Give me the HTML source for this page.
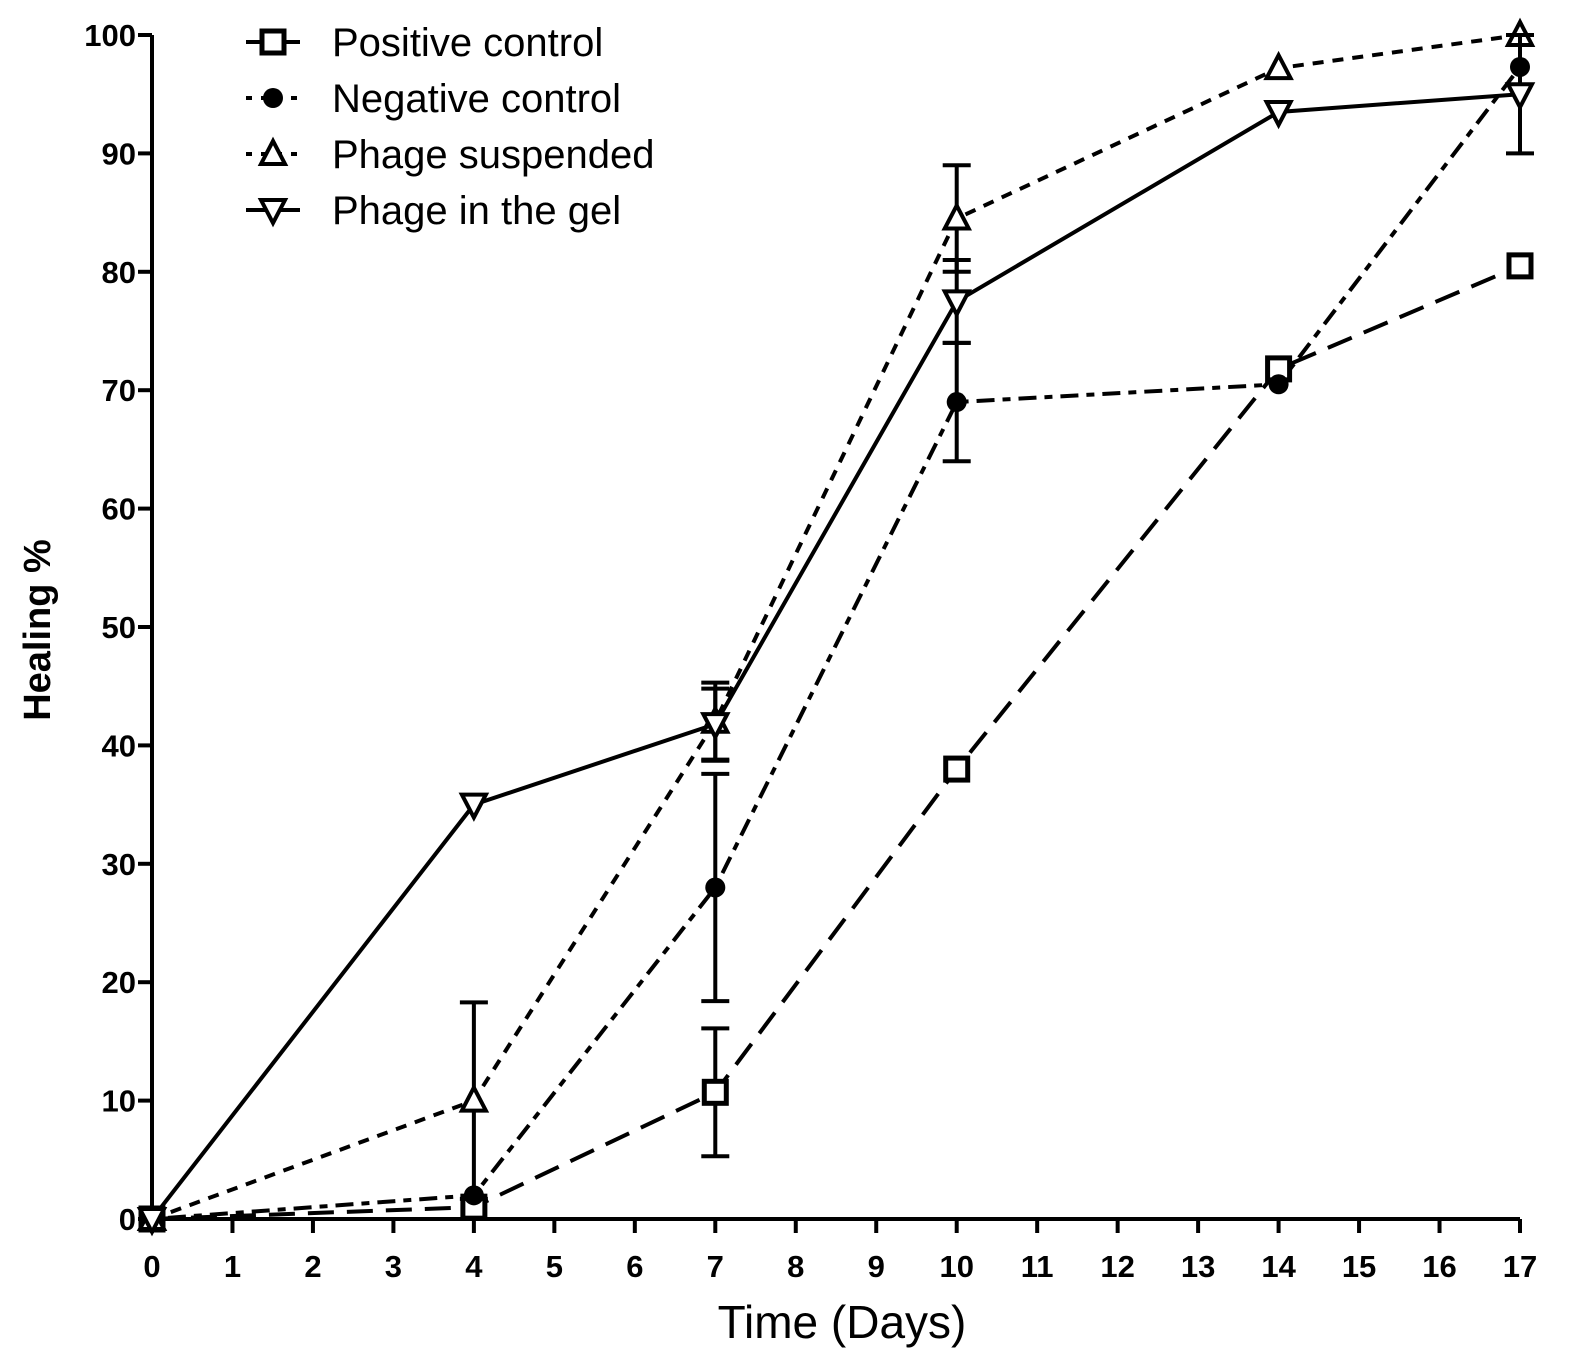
<!DOCTYPE html>
<html><head><meta charset="utf-8"><style>
body{margin:0;background:#fff}
svg{display:block;font-family:"Liberation Sans",Arial,sans-serif}
</style></head><body>
<svg id="chart" width="1571" height="1371" viewBox="0 0 1571 1371" xmlns="http://www.w3.org/2000/svg">
<g id="axes"></g>
<g id="series"></g>
<g id="legend"></g>
<text x="50" y="630" font-size="38" font-weight="bold" text-anchor="middle" transform="rotate(-90 50 630)">Healing %</text>
<text x="842" y="1338" font-size="46" text-anchor="middle">Time (Days)</text>
</svg>
<script>
const days=[0,4,7,10,14,17];
const xTicks=[0,1,2,3,4,5,6,7,8,9,10,11,12,13,14,15,16,17];
const yTicks=[0,10,20,30,40,50,60,70,80,90,100];
const seriesNames=["Positive control","Negative control","Phage suspended","Phage in the gel"];
const positiveValues=[0,1,10.7,38,71.8,80.5];
const positiveErr=[0,0,5.4,0,0,0];
const negativeValues=[0,2,28,69,70.5,97.3];
const negativeErr=[0,0,9.6,5,0,0];
const suspendedValues=[0,10,42,84.5,97.2,100];
const suspendedErr=[0,8.3,3.3,4.5,0,0];
const gelValues=[0,35,41.8,77.5,93.5,95];
const gelErr=[0,0,3,3.5,0,5];

const NS="http://www.w3.org/2000/svg";
const X0=152,X1=1520,Y0=1219,Y1=35;
const xs=d=>X0+(d/17)*(X1-X0);
const ys=v=>Y0-(v/100)*(Y0-Y1);
function mk(tag,attrs,parent){const e=document.createElementNS(NS,tag);for(const k in attrs)e.setAttribute(k,attrs[k]);parent.appendChild(e);return e;}
const axes=document.getElementById('axes');
let e=mk('line',{x1:X0,y1:Y1,x2:X0,y2:Y0,stroke:'#000','stroke-width':4},axes);


e=mk('line',{x1:X0,y1:Y0,x2:X1,y2:Y0,stroke:'#000','stroke-width':4},axes);


yTicks.forEach(v=>{
  const t=mk('line',{x1:X0-14,y1:ys(v),x2:X0,y2:ys(v),stroke:'#000','stroke-width':4},axes);
  
  
  const l=mk('text',{x:X0-16,y:ys(v)+11,'font-size':31,'font-weight':'bold','text-anchor':'end'},axes);
  l.textContent=v;
  
  
});
xTicks.forEach(d=>{
  const t=mk('line',{x1:xs(d),y1:Y0,x2:xs(d),y2:Y0+14,stroke:'#000','stroke-width':4},axes);
  
  
  const l=mk('text',{x:xs(d),y:Y0+58,'font-size':31,'font-weight':'bold','text-anchor':'middle'},axes);
  l.textContent=d;
  
  
});
const dashes=["26,13","8,8,18,8","11,9","none"];
const markers=["square","circle","triangle","invtriangle"];
const allVals=[positiveValues,negativeValues,suspendedValues,gelValues];
const allErr=[positiveErr,negativeErr,suspendedErr,gelErr];
function marker(type,cx,cy,g){
  if(type==='square')return mk('rect',{x:cx-11,y:cy-11,width:22,height:22,fill:'#fff',stroke:'#000','stroke-width':5},g);
  if(type==='circle')return mk('circle',{cx:cx,cy:cy,r:10,fill:'#000'},g);
  if(type==='triangle')return mk('polygon',{points:`${cx},${cy-13} ${cx-12},${cy+10} ${cx+12},${cy+10}`,fill:'#fff',stroke:'#000','stroke-width':4},g);
  return mk('polygon',{points:`${cx},${cy+13} ${cx-12},${cy-10} ${cx+12},${cy-10}`,fill:'#fff',stroke:'#000','stroke-width':4},g);
}
const sg=document.getElementById('series');
allVals.forEach((vals,i)=>{
  const g=mk('g',{},sg);
  
  
  const pl=mk('polyline',{points:days.map((d,j)=>xs(d)+','+ys(vals[j])).join(' '),fill:'none',stroke:'#000','stroke-width':4,'stroke-dasharray':dashes[i]},g);
  
  
  days.forEach((d,j)=>{
    const er=allErr[i][j];
    if(er>0){
      const cx=xs(d),a=ys(vals[j]-er),b=ys(vals[j]+er);
      const eb=mk('path',{d:`M${cx},${a}V${b}M${cx-14},${a}H${cx+14}M${cx-14},${b}H${cx+14}`,stroke:'#000','stroke-width':4,fill:'none'},g);
      
      
    }
    const m=marker(markers[i],xs(d),ys(vals[j]),g);
    
    
  });
});
const lg=document.getElementById('legend');
seriesNames.forEach((n,i)=>{
  const y=42+i*56;
  const g=mk('g',{},lg);
  
  
  mk('line',{x1:246,y1:y,x2:300,y2:y,stroke:'#000','stroke-width':4,'stroke-dasharray':i==0||i==3?'none':'6,9'},g);
  marker(markers[i],273,y,g);
  const t=mk('text',{x:332,y:y+14,'font-size':40},g);
  t.textContent=n;
});
</script>
</body></html>
